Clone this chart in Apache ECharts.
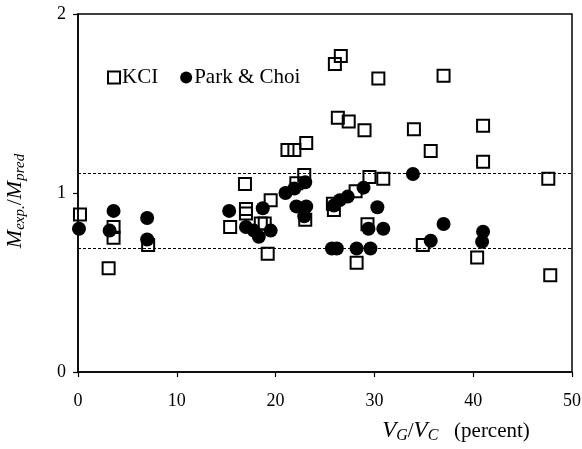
<!DOCTYPE html>
<html><head><meta charset="utf-8">
<script src="https://cdn.jsdelivr.net/npm/echarts@6/dist/echarts.min.js"></script>
<style>html,body{margin:0;padding:0;background:#fff}#c{width:582px;height:449px}</style>
</head><body><div id="c"></div>
<script>
var kciData = [
  [0.2,0.88],[3.1,0.58],[3.6,0.81],[3.6,0.75],[7.1,0.71],
  [15.4,0.81],[16.9,1.05],[17.0,0.91],[17.0,0.885],[18.5,0.83],[18.9,0.83],
  [19.5,0.96],[19.2,0.66],[21.2,1.24],[21.9,1.24],[23.1,1.28],[22.9,1.10],
  [22.1,1.055],[23.0,0.85],[26.0,1.72],[26.6,1.765],[26.3,1.42],[27.4,1.40],
  [29.0,1.35],[30.4,1.64],[25.8,0.94],[25.9,0.905],[28.1,1.01],[29.5,1.09],
  [30.9,1.08],[29.3,0.825],[28.2,0.61],[34.0,1.356],[35.7,1.235],[37.0,1.655],
  [34.9,0.71],[40.4,0.64],[41.0,1.376],[41.0,1.175],[47.6,1.08],[47.8,0.54]
];
var parkChoiData = [
  [0.1,0.80],[3.6,0.90],[3.2,0.79],[7.0,0.86],[7.0,0.74],
  [15.3,0.90],[17.0,0.81],[17.8,0.79],[18.3,0.755],[18.7,0.915],[19.5,0.79],
  [21.0,1.00],[21.9,1.025],[23.0,1.06],[22.1,0.925],[23.1,0.925],[22.9,0.87],
  [25.7,0.69],[26.2,0.69],[28.2,0.69],[29.6,0.69],[25.9,0.93],[26.5,0.96],
  [27.3,0.98],[28.9,1.03],[30.3,0.92],[29.4,0.80],[30.9,0.80],[33.9,1.106],
  [35.7,0.733],[37.0,0.827],[41.0,0.784],[40.9,0.728]
];
var boundLines = [1.11, 0.685];
var xTicks = [0,10,20,30,40,50];
var yTicks = [0,1,2];
var seriesNames = ['KCI','Park & Choi'];

var serif = 'Liberation Serif';
var chart = echarts.init(document.getElementById('c'));
chart.setOption({
  animation:false,
  textStyle:{fontFamily:serif},
  grid:{left:78,right:10,top:14,bottom:77,show:true,borderColor:'#000',borderWidth:1.5,
        backgroundColor:'transparent',containLabel:false,outerBoundsMode:'none'},
  legend:{
    left:102, top:62, itemWidth:12, itemHeight:12, itemGap:22,
    textStyle:{fontFamily:serif,fontSize:21,color:'#000',padding:[0,0,0,-3]},
    data:seriesNames
  },
  xAxis:{
    type:'value',min:xTicks[0],max:xTicks[xTicks.length-1],interval:10,
    axisLine:{lineStyle:{color:'#000',width:1.5}},
    axisTick:{show:true,length:5,lineStyle:{color:'#000',width:1.2}},
    axisLabel:{color:'#000',fontSize:18,fontFamily:serif,margin:20},
    splitLine:{show:false},
    name:'{i|V}{s|G}{n|/}{i|V}{s|C}{n|   (percent)}',
    nameLocation:'middle',nameGap:46,
    nameTextStyle:{padding:[0,0,0,262],rich:{
      i:{fontFamily:serif,fontStyle:'italic',fontSize:23,color:'#000',lineHeight:26,verticalAlign:'middle'},
      s:{fontFamily:serif,fontStyle:'italic',fontSize:16,color:'#000',lineHeight:26,verticalAlign:'bottom',padding:[9,0,0,0]},
      n:{fontFamily:serif,fontSize:21,color:'#000',lineHeight:26,verticalAlign:'middle'}
    }}
  },
  yAxis:{
    type:'value',min:yTicks[0],max:yTicks[yTicks.length-1],interval:1,
    axisLine:{show:true,lineStyle:{color:'#000',width:1.5}},
    axisTick:{show:true,length:5,lineStyle:{color:'#000',width:1.2}},
    axisLabel:{color:'#000',fontSize:18,fontFamily:serif,margin:12},
    splitLine:{show:false},
    name:'{i|M}{s|exp.}{n|/}{i|M}{s|pred}',
    nameLocation:'middle',nameGap:50,nameRotate:90,
    nameTextStyle:{padding:[0,16,0,0],rich:{
      i:{fontFamily:serif,fontStyle:'italic',fontSize:22,color:'#000',lineHeight:26,verticalAlign:'middle'},
      s:{fontFamily:serif,fontStyle:'italic',fontSize:15,color:'#000',lineHeight:26,verticalAlign:'bottom',padding:[9,0,0,0]},
      n:{fontFamily:serif,fontSize:22,color:'#000',lineHeight:26,verticalAlign:'middle'}
    }}
  },
  series:[
    {
      name:seriesNames[0],type:'scatter',symbol:'rect',symbolSize:12,z:2,
      itemStyle:{color:'rgba(255,255,255,0)',borderColor:'#000',borderWidth:2,opacity:1},
      data:kciData,
      markLine:{
        silent:true,symbol:'none',label:{show:false},
        lineStyle:{color:'#000',type:[3,2],width:1},
        data:boundLines.map(function(v){return {yAxis:v};})
      }
    },
    {
      name:seriesNames[1],type:'scatter',symbol:'circle',symbolSize:14,z:3,
      itemStyle:{color:'#000',opacity:1},
      data:parkChoiData
    }
  ]
});
</script></body></html>
